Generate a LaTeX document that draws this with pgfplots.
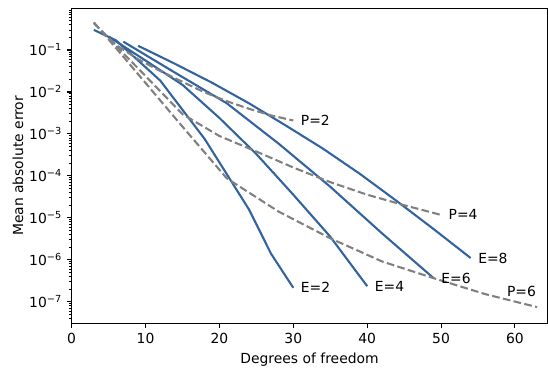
\documentclass[border=0pt]{standalone}
\usepackage{fontspec}
\setmainfont{DejaVu Sans}
\usepackage{pgfplots}
\pgfplotsset{compat=1.18}
\definecolor{eblue}{RGB}{49,99,160}
\definecolor{pgray}{RGB}{128,128,128}
\begin{document}
\begin{tikzpicture}[font=\fontsize{10bp}{12bp}\selectfont]
\begin{axis}[
  scale only axis, width=342.6bp, height=226.8bp,
  xmin=0, xmax=64.4, ymode=log, ymin=3.05e-8, ymax=0.986,
  axis line style={line width=0.8bp},
  tick align=outside, tick pos=left,
  xtick={0,10,20,30,40,50,60},
  minor x tick num=0,
  ytick={1e-7,1e-6,1e-5,1e-4,1e-3,1e-2,1e-1},
  yticklabels={10\textsuperscript{−7},10\textsuperscript{−6},10\textsuperscript{−5},10\textsuperscript{−4},10\textsuperscript{−3},10\textsuperscript{−2},10\textsuperscript{−1}},
  minor ytick={4e-8,5e-8,6e-8,7e-8,8e-8,9e-8,
    2e-7,3e-7,4e-7,5e-7,6e-7,7e-7,8e-7,9e-7,
    2e-6,3e-6,4e-6,5e-6,6e-6,7e-6,8e-6,9e-6,
    2e-5,3e-5,4e-5,5e-5,6e-5,7e-5,8e-5,9e-5,
    2e-4,3e-4,4e-4,5e-4,6e-4,7e-4,8e-4,9e-4,
    2e-3,3e-3,4e-3,5e-3,6e-3,7e-3,8e-3,9e-3,
    2e-2,3e-2,4e-2,5e-2,6e-2,7e-2,8e-2,9e-2,
    2e-1,3e-1,4e-1,5e-1,6e-1,7e-1,8e-1,9e-1},
  major tick length=3.5bp, minor tick length=2bp,
  every tick/.style={black, line width=0.8bp},
  minor tick style={line width=0.6bp},
  /pgf/number format/assume math mode=true,
  xlabel={Degrees of freedom}, ylabel={Mean absolute error},
  every axis x label/.style={at={(axis description cs:0.5,-0.128)}, anchor=base},
  every axis y label/.style={at={(axis description cs:-0.113,0.5)}, anchor=center, rotate=90},
  clip=false,
]
% E lines
\addplot[eblue, line width=1.5bp, line join=round] coordinates {(3,0.302) (6,0.170) (12,0.0186) (18,7.59e-4) (24,1.58e-5) (27,1.38e-6) (30,2.14e-7)};
\addplot[eblue, line width=1.5bp, line join=round] coordinates {(5,0.209) (10,0.0562) (15,0.0148) (20,2.40e-3) (25,3.31e-4) (30,3.55e-5) (35,3.55e-6) (40,2.34e-7)};
\addplot[eblue, line width=1.5bp, line join=round] coordinates {(7,0.158) (14,0.0288) (21,5.37e-3) (28,5.89e-4) (35,5.50e-5) (42,4.27e-6) (49,3.63e-7)};
\addplot[eblue, line width=1.5bp, line join=round] coordinates {(9,0.126) (14,0.0468) (19,0.0166) (24,5.37e-3) (29,1.58e-3) (34,4.47e-4) (39,1.12e-4) (44,2.51e-5) (49,5.37e-6) (54,1.10e-6)};
% P lines
\addplot[pgray, line width=1.5bp, dash pattern=on 5.55bp off 2.4bp] coordinates {(3,0.437) (6,0.132) (9,0.0603) (12,0.0316) (15,0.0174) (18,9.77e-3) (21,6.03e-3) (24,3.98e-3) (27,2.75e-3) (30,2.09e-3)};
\addplot[pgray, line width=1.5bp, dash pattern=on 5.55bp off 2.4bp] coordinates {(5,0.191) (10,0.0240) (15,2.95e-3) (20,8.91e-4) (25,3.80e-4) (30,1.58e-4) (35,7.08e-5) (40,3.55e-5) (45,2.00e-5) (50,1.17e-5)};
\addplot[pgray, line width=1.5bp, dash pattern=on 5.55bp off 2.4bp] coordinates {(3,0.457) (7,0.0692) (14,2.40e-3) (21,8.71e-5) (28,1.41e-5) (35,3.24e-6) (42,9.12e-7) (49,3.63e-7) (56,1.51e-7) (63,7.41e-8)};
% labels
\node[anchor=west, inner sep=0pt] at (axis cs:31,2.14e-7) {E=2};
\node[anchor=west, inner sep=0pt] at (axis cs:41,2.34e-7) {E=4};
\node[anchor=west, inner sep=0pt] at (axis cs:50,3.63e-7) {E=6};
\node[anchor=west, inner sep=0pt] at (axis cs:55,1.10e-6) {E=8};
\node[anchor=west, inner sep=0pt] at (axis cs:31,2.09e-3) {P=2};
\node[anchor=west, inner sep=0pt] at (axis cs:51,1.17e-5) {P=4};
\node[anchor=west, inner sep=0pt] at (axis cs:58.9,1.74e-7) {P=6};
\end{axis}
\pgfresetboundingbox
\path[use as bounding box] ([shift={(-51.6bp,-31.5bp)}]current axis.south west) rectangle ([shift={(0.4bp,6.0bp)}]current axis.north east);
\end{tikzpicture}
\end{document}
